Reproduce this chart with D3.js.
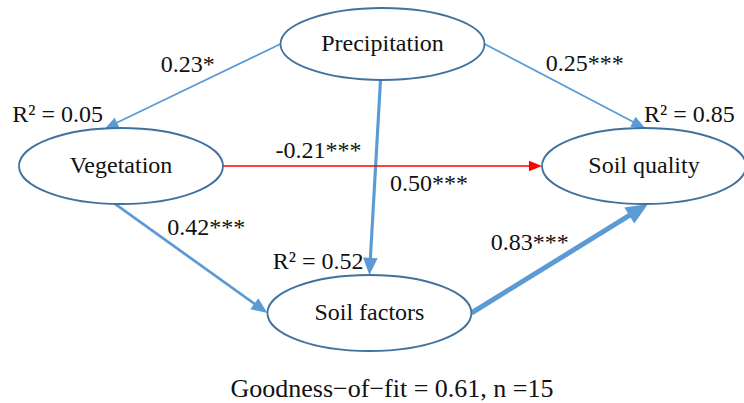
<!DOCTYPE html>
<html>
<head>
<meta charset="utf-8">
<script src="https://cdn.jsdelivr.net/npm/d3@7"></script>
<style>
  body { margin: 0; background: #fff; }
</style>
</head>
<body>
<div id="chart"></div>
<script>
// variables (nodes) and their explained variance
var nodeNames = ["Precipitation", "Vegetation", "Soil quality", "Soil factors"];
var nodeR2 = [null, 0.05, 0.85, 0.52];

// paths: source, target, standardised coefficient, significance
var pathFrom = ["Precipitation", "Precipitation", "Precipitation", "Vegetation", "Vegetation", "Soil factors"];
var pathTo   = ["Vegetation", "Soil quality", "Soil factors", "Soil quality", "Soil factors", "Soil quality"];
var pathCoef = [0.23, 0.25, 0.50, -0.21, 0.42, 0.83];
var pathSig  = ["*", "***", "***", "***", "***", "***"];

var gof = 0.61, nSample = 15;

// layout only (grid cells + label nudges)
var nodeCol = [1, 0, 2, 0.95];
var nodeRow = ["top", "mid", "mid", "bottom"];
var r2Dx = [0, -18, 0, -6], r2Anchor = ["end", "end", "start", "end"];
var fromSide = ["left", "right", "bottom", "right", "bottom", "right"];
var toSide   = ["top", "top", "top", "left", "left", "bottom"];
var fromShift = [0, 0, -2, 0, -6, 0], toShift = [-16, 1, 0, 0, 0, 4];
var labDx = [-5, 20, 15, -64, 15, -30], labDy = [-14, -15, 14, -8, -23, -8];
var labAnchor = ["middle", "middle", "start", "middle", "middle", "middle"];

var FONT = "'Liberation Serif'";
var W = 744, H = 403;
var svg = d3.select("#chart").append("svg").attr("width", W).attr("height", H);

var x = d3.scaleLinear().domain([0, 2]).range([121, 644]);
var y = d3.scaleOrdinal().domain(["top", "mid", "bottom"]).range([44, 166, 313]);
var width = d3.scaleLinear().domain([0.2, 0.83]).range([1.5, 5]);
var rx = 102, ry = 38;

var nodes = nodeNames.map(function(n, i) {
  return { name: n, r2: nodeR2[i], cx: x(nodeCol[i]), cy: y(nodeRow[i]), ry: i === 0 ? 36 : ry, i: i };
});
var byName = {};
nodes.forEach(function(d) { byName[d.name] = d; });

function anchor(n, side, shift) {
  if (side === "left") return [n.cx - rx, n.cy];
  if (side === "right") return [n.cx + rx, n.cy];
  var yy = Math.sqrt(1 - (shift * shift) / (rx * rx)) * n.ry;
  if (side === "top") return [n.cx + shift, n.cy - yy];
  return [n.cx + shift, n.cy + yy];
}

var paths = pathCoef.map(function(c, i) {
  var s = anchor(byName[pathFrom[i]], fromSide[i], fromShift[i]),
      t = anchor(byName[pathTo[i]], toSide[i], toShift[i]);
  var dx = t[0] - s[0], dy = t[1] - s[1], len = Math.sqrt(dx * dx + dy * dy);
  var u = [dx / len, dy / len], nrm = [-u[1], u[0]];
  var w = width(Math.abs(c));
  var hl = 9 + 2.6 * w, hw = 3.5 + 1.2 * w;
  return { coef: c, sig: pathSig[i], s: s, t: t, u: u, n: nrm, w: w, hl: hl, hw: hw,
           color: c < 0 ? "#ff0000" : "#5b9bd5", i: i };
});

// arrows
var arrow = svg.append("g").selectAll("g").data(paths).enter().append("g");
arrow.append("line")
  .attr("x1", function(d) { return d.s[0]; })
  .attr("y1", function(d) { return d.s[1]; })
  .attr("x2", function(d) { return d.t[0] - d.u[0] * d.hl * 0.8; })
  .attr("y2", function(d) { return d.t[1] - d.u[1] * d.hl * 0.8; })
  .attr("stroke", function(d) { return d.color; })
  .attr("stroke-width", function(d) { return d.w; });
arrow.append("path")
  .attr("fill", function(d) { return d.color; })
  .attr("d", function(d) {
    var bx = d.t[0] - d.u[0] * d.hl, by = d.t[1] - d.u[1] * d.hl;
    return "M" + d.t[0] + "," + d.t[1] +
      "L" + (bx + d.n[0] * d.hw) + "," + (by + d.n[1] * d.hw) +
      "L" + (bx - d.n[0] * d.hw) + "," + (by - d.n[1] * d.hw) + "Z";
  });

// coefficient labels
svg.append("g").selectAll("text").data(paths).enter().append("text")
  .attr("x", function(d) { return (d.s[0] + d.t[0]) / 2 + labDx[d.i]; })
  .attr("y", function(d) { return (d.s[1] + d.t[1]) / 2 + labDy[d.i]; })
  .attr("text-anchor", function(d) { return labAnchor[d.i]; })
  .style("font-family", FONT).style("font-size", "24px").attr("fill", "#111")
  .text(function(d) { return d.coef.toFixed(2) + d.sig; });

// nodes
var node = svg.append("g").selectAll("g").data(nodes).enter().append("g")
  .attr("transform", function(d) { return "translate(" + d.cx + "," + d.cy + ")"; });
node.append("ellipse")
  .attr("rx", rx).attr("ry", function(d) { return d.ry; })
  .attr("fill", "#fff").attr("stroke", "#41719c").attr("stroke-width", 1.8);
node.append("text")
  .attr("text-anchor", "middle").attr("dy", "0.3em")
  .style("font-family", FONT).style("font-size", "24px").attr("fill", "#111")
  .text(function(d) { return d.name; });

svg.append("g").selectAll("text").data(nodes.filter(function(d) { return d.r2 != null; }))
  .enter().append("text")
  .attr("x", function(d) { return d.cx + r2Dx[d.i]; })
  .attr("y", function(d) { return d.cy - d.ry - 6; })
  .attr("text-anchor", function(d) { return r2Anchor[d.i]; })
  .style("font-family", FONT).style("font-size", "24px").attr("fill", "#111")
  .text(function(d) { return "R\u00b2 = " + d.r2.toFixed(2); });

svg.append("text")
  .attr("x", 392).attr("y", 397)
  .attr("text-anchor", "middle")
  .style("font-family", FONT).style("font-size", "26px").attr("fill", "#111")
  .text("Goodness\u2212of\u2212fit = " + gof + ", n =" + nSample);
</script>
</body>
</html>
